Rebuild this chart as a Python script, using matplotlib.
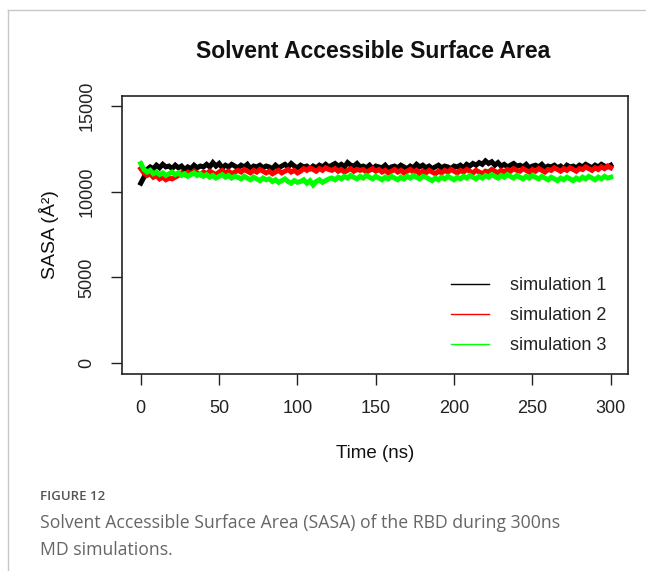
import numpy as np
import matplotlib
matplotlib.use("Agg")
import matplotlib.pyplot as plt
from matplotlib.lines import Line2D

time_ns = np.arange(0, 301, 2)

sim1 = [10500, 10850, 11300, 11450, 11350, 11550, 11400, 11600, 11450, 11500, 11350,
        11550, 11400, 11500, 11300, 11450, 11350, 11550, 11400, 11500, 11450,
        11600, 11450, 11700, 11500, 11650, 11400, 11550, 11450, 11600, 11500,
        11400, 11550, 11450, 11600, 11350, 11500, 11450, 11550, 11400, 11500,
        11450, 11350, 11550, 11400, 11500, 11600, 11450, 11650, 11500, 11400,
        11550, 11450, 11500, 11350, 11500, 11400, 11550, 11450, 11600, 11450,
        11550, 11650, 11500, 11600, 11450, 11700, 11550, 11500, 11650, 11450,
        11500, 11400, 11550, 11350, 11500, 11450, 11400, 11550, 11350, 11450,
        11500, 11400, 11550, 11450, 11350, 11500, 11400, 11600, 11450, 11550,
        11400, 11500, 11350, 11450, 11550, 11400, 11500, 11450, 11350, 11500,
        11450, 11550, 11400, 11600, 11500, 11650, 11550, 11700, 11600, 11800,
        11650, 11750, 11550, 11700, 11500, 11600, 11450, 11550, 11650, 11500,
        11550, 11450, 11600, 11400, 11500, 11550, 11450, 11600, 11400, 11500,
        11450, 11550, 11400, 11500, 11350, 11550, 11450, 11500, 11400, 11550,
        11450, 11600, 11500, 11400, 11550, 11450, 11600, 11500, 11450, 11550]

sim2 = [11350, 11100, 10950, 11050, 10850, 10950, 10750, 10850, 10700, 10800, 10750,
        10850, 10950, 11100, 11000, 11150, 11050, 11200, 11100, 11000, 11150,
        11050, 11200, 11100, 11000, 11150, 11250, 11100, 11200, 11050, 11150,
        11250, 11150, 11300, 11200, 11100, 11250, 11150, 11300, 11200, 11100,
        11200, 11050, 11150, 11250, 11100, 11200, 11300, 11150, 11250, 11100,
        11200, 11350, 11250, 11400, 11300, 11200, 11350, 11250, 11400, 11300,
        11250, 11350, 11200, 11300, 11150, 11250, 11350, 11200, 11300, 11250,
        11300, 11150, 11250, 11350, 11200, 11300, 11150, 11250, 11100, 11200,
        11300, 11150, 11250, 11100, 11200, 11300, 11150, 11250, 11050, 11200,
        11100, 11250, 11150, 11050, 11200, 11100, 11250, 11150, 11300, 11200,
        11100, 11250, 11150, 11300, 11200, 11100, 11250, 11150, 11050, 11200,
        11150, 11300, 11200, 11100, 11250, 11150, 11300, 11200, 11350, 11250,
        11200, 11350, 11250, 11150, 11300, 11200, 11350, 11250, 11150, 11300,
        11250, 11400, 11300, 11200, 11350, 11250, 11400, 11300, 11200, 11350,
        11300, 11450, 11350, 11250, 11400, 11300, 11450, 11350, 11500, 11400]

sim3 = [11650, 11300, 11150, 11250, 11050, 11150, 11000, 11100, 10950, 11050, 11150,
        11000, 11100, 10950, 11050, 10900, 11000, 11100, 10950, 11050, 10900,
        11000, 10850, 10950, 10800, 10900, 11000, 10850, 10950, 10800, 10900,
        10850, 10750, 10900, 10800, 10700, 10850, 10750, 10650, 10800, 10700,
        10750, 10600, 10700, 10550, 10650, 10750, 10600, 10500, 10650, 10550,
        10600, 10700, 10500, 10650, 10400, 10600, 10700, 10550, 10650, 10750,
        10800, 10700, 10850, 10750, 10900, 10800, 10950, 10850, 10750, 10900,
        10800, 10950, 10850, 10750, 10900, 10800, 10700, 10850, 10750, 10900,
        10800, 10700, 10850, 10750, 10900, 10800, 10950, 10850, 10750, 10900,
        10850, 10750, 10650, 10800, 10700, 10850, 10750, 10900, 10800, 10700,
        10850, 10750, 10900, 10800, 10950, 10850, 10750, 10900, 10800, 10950,
        10850, 11000, 10900, 10800, 10950, 10850, 11000, 10900, 10800, 10950,
        10850, 10750, 10900, 10800, 10950, 10850, 10750, 10900, 10800, 10700,
        10850, 10750, 10650, 10800, 10700, 10850, 10750, 10650, 10800, 10700,
        10850, 10750, 10900, 10800, 10700, 10850, 10750, 10900, 10800, 10850]

series_labels = ["simulation 1", "simulation 2", "simulation 3"]
series_colors = ["#000000", "#ff0000", "#00ff00"]
x_ticks = [0, 50, 100, 150, 200, 250, 300]
y_ticks = [0, 5000, 10000, 15000]

plt.rcParams['font.family'] = ['Liberation Sans', 'DejaVu Sans']

fig = plt.figure(figsize=(6.46, 5.71), dpi=100)
fig.patch.set_facecolor('white')

W, H = 646, 571
ax = fig.add_axes([122 / W, (H - 374) / H, 506 / W, 278 / H])

for vals, col in zip([sim1, sim2, sim3], series_colors):
    ax.plot(time_ns, vals, color=col, lw=3.6, solid_joinstyle='miter')

ax.set_xlim(-12, 311)
ax.set_ylim(-640, 15590)
ax.set_xticks(x_ticks)
ax.set_yticks(y_ticks)
ax.set_xticklabels([str(t) for t in x_ticks])
ax.set_yticklabels([str(t) for t in y_ticks], rotation=90, va='center')
ax.tick_params(axis='both', direction='out', length=8, width=1, labelsize=13,
               colors='#222222')
ax.tick_params(axis='x', pad=11)
ax.tick_params(axis='y', pad=11)
for s in ax.spines.values():
    s.set_linewidth(1.2)
    s.set_color('#222222')

ax.set_xlabel("Time (ns)", fontsize=13.5, labelpad=20, color='#111111')
ax.set_ylabel("SASA (Å²)", fontsize=14, labelpad=14, color='#111111')
fig.text(373 / W, 1 - 52 / H, "Solvent Accessible Surface Area", ha='center',
         va='center', fontsize=16.5, fontweight='bold', color='#111111')

handles = [Line2D([0], [0], color=c, lw=1) for c in series_colors]
ax.legend(handles, series_labels, loc='lower right', frameon=False, fontsize=13,
          handlelength=2.1, handletextpad=1.2, labelspacing=0.72,
          bbox_to_anchor=(0.99, 0.013), labelcolor='#222222')

# page frame lines
fig.add_artist(Line2D([8 / W, 1], [1 - 10 / H, 1 - 10 / H], color='#c8c8c8', lw=1))
fig.add_artist(Line2D([8 / W, 8 / W], [0, 1 - 10 / H], color='#c8c8c8', lw=1))

fig.text(40 / W, 1 - 497 / H, "FIGURE 12", ha='left', va='center', fontsize=9.5,
         color='#555555', fontweight='semibold', family=['Open Sans', 'DejaVu Sans'])
fig.text(40 / W, 1 - 523 / H, "Solvent Accessible Surface Area (SASA) of the RBD during 300ns",
         ha='left', va='center', fontsize=12.7, color='#666666',
         family=['Open Sans', 'DejaVu Sans'])
fig.text(40 / W, 1 - 550 / H, "MD simulations.", ha='left', va='center', fontsize=12.7,
         color='#666666', family=['Open Sans', 'DejaVu Sans'])

fig.savefig("out.png", dpi=100)
